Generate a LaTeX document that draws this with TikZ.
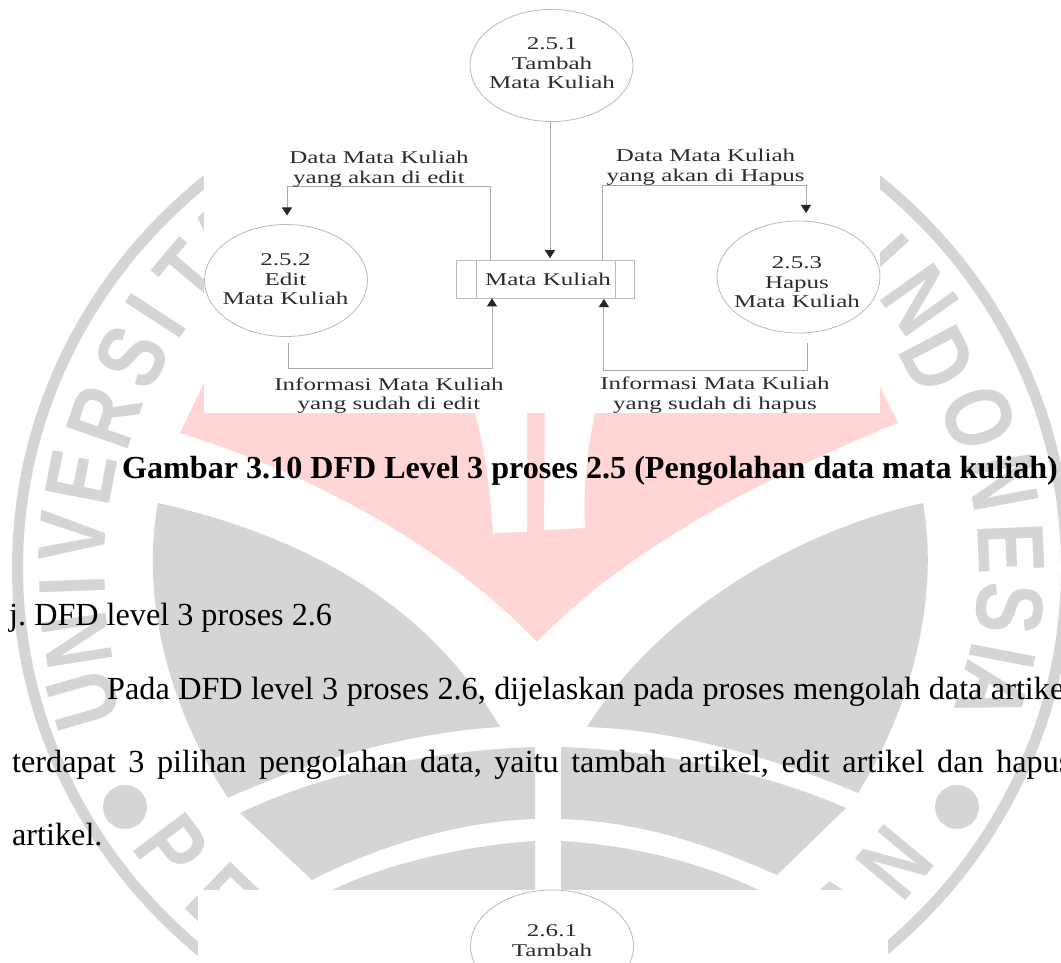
\documentclass[tikz,border=0pt]{standalone}
\usepackage{fontspec}
\usetikzlibrary{shapes.geometric,arrows.meta}
\setmainfont{Liberation Serif}
\newfontfamily\dgmfont[FakeStretch=1.39]{Liberation Serif}
\newfontfamily\wmfont[FakeStretch=0.8]{Liberation Sans}
\definecolor{wmgray}{HTML}{D5D5D5}
\definecolor{wmpink}{HTML}{FFD5D5}
\definecolor{dgmline}{HTML}{A8A8A8}
\definecolor{dgmtext}{HTML}{2C2C2C}
\tikzset{
  wmletter/.style={inner sep=0pt,outer sep=0pt,text=wmgray,font=\wmfont\bfseries\fontsize{95}{95}\selectfont},
  proc/.style={draw=dgmline!80,line width=0.8pt,ellipse,inner sep=0pt,outer sep=0pt,minimum width=163pt,minimum height=112pt},
  storebox/.style={draw=dgmline!80,line width=0.8pt,rectangle,inner sep=0pt,outer sep=0pt,minimum width=178pt,minimum height=37.6pt,
     text=dgmtext,font=\dgmfont\fontsize{18}{19.5}\selectfont},
  flow/.style={draw=dgmline,line width=0.9pt,-{Triangle[length=8pt,width=10pt,color=black!85]}},
  lbl/.style={inner sep=0pt,align=center,text=dgmtext,font=\dgmfont\fontsize{18}{19.5}\selectfont},
  body/.style={inner sep=0pt,anchor=base west,font=\fontsize{32.2}{38}\selectfont},
  capt/.style={inner sep=0pt,anchor=base west,font=\bfseries\fontsize{32.1}{38}\selectfont}
}
\frenchspacing
\begin{document}
\begin{tikzpicture}[x=1pt,y=-1pt]
\clip (0,0) rectangle (1061,963);
\fill[white] (0,0) rectangle (1061,963);
% watermark
\fill[wmpink] (180,433) .. controls (300,470) and (440,540) .. (537,642)
   .. controls (630,545) and (770,475) .. (898,423) -- (880,387) -- (860,340) -- (220,340) -- (204,383) -- cycle;
\fill[white] (475,413) .. controls (485,450) and (490,490) .. (493,533) -- (527,532) -- (527,413) -- cycle;
\fill[white] (545,413) -- (544,530) -- (585,528) .. controls (583,490) and (587,450) .. (595,413) -- cycle;
\fill[wmgray,even odd rule] (542,568) ellipse [x radius=530pt,y radius=510pt] (542,568) ellipse [x radius=519pt,y radius=499pt];
\fill[wmgray] (158,503) .. controls (300,535) and (425,600) .. (500,727)
   .. controls (400,733) and (300,765) .. (228,798)
   .. controls (170,710) and (140,600) .. (158,503) -- cycle;
\fill[wmgray] (923,503) .. controls (800,530) and (660,610) .. (587,727)
   .. controls (680,730) and (780,760) .. (858,793)
   .. controls (910,710) and (940,600) .. (923,503) -- cycle;
\fill[wmgray] (240,813) .. controls (330,770) and (440,750) .. (535,747) -- (535,819)
   .. controls (450,822) and (370,850) .. (312,880) -- cycle;
\fill[wmgray] (846,808) .. controls (760,770) and (650,750) .. (561,747) -- (561,819)
   .. controls (650,822) and (720,850) .. (777,875) -- cycle;
\fill[wmgray] (332,890) .. controls (390,862) and (470,845) .. (535,841) -- (535,890) -- cycle;
\fill[wmgray] (759,890) .. controls (700,862) and (630,845) .. (561,841) -- (561,890) -- cycle;
\fill[wmgray] (125,807) circle [radius=22pt];
\fill[wmgray] (957,807) circle [radius=22pt];
\node[wmletter,rotate=106] (wU) at (84,700) {U};
\node[wmletter,rotate=98.8] (wN) at (77,640) {N};
\node[wmletter,rotate=92] (wI) at (72,586) {I};
\node[wmletter,rotate=86] (wV) at (73,537) {V};
\node[wmletter,rotate=79] (wE) at (81,477) {E};
\node[wmletter,rotate=71] (wR) at (105,417) {R};
\node[wmletter,rotate=63] (wS) at (132,357) {S};
\node[wmletter,rotate=57] (wIb) at (156,316) {I};
\node[wmletter,rotate=50] (wT) at (190,275) {T};
\node[wmletter,rotate=42.5] (wA) at (225,238) {A};
\node[wmletter,rotate=-47.7] (xI) at (882,259) {I};
\node[wmletter,rotate=-54.7] (xN) at (920,300) {N};
\node[wmletter,rotate=-62.3] (xD) at (938,360) {D};
\node[wmletter,rotate=-71.1] (xO) at (979,418) {O};
\node[wmletter,rotate=-79.4] (xNb) at (1003,482) {N};
\node[wmletter,rotate=-87.6] (xE) at (1011,548) {E};
\node[wmletter,rotate=-95] (xS) at (1010,609) {S};
\node[wmletter,rotate=-100.8] (xIb) at (1003,656) {I};
\node[wmletter,rotate=-105.5] (xA) at (993,693) {A};
\node[wmletter,rotate=-53] (yP) at (172,848) {P};
\node[wmletter,rotate=-44] (yE) at (222,900) {E};
\node[wmletter,rotate=40] (yA) at (847,911) {A};
\node[wmletter,rotate=50.2] (yN) at (895,862) {N};
% white panels of the pasted figures
\fill[white] (204,0) rectangle (880,413);
\fill[white] (198,890) rectangle (888,963);
% diagram
\node[proc] (e1) at (551.5,65.5) {};
\node[proc] (e2) at (286,280.5) {};
\node[proc] (e3) at (798.5,277) {};
\node[lbl] (e1t) at (552,63.3) {2.5.1\\Tambah\\Mata Kuliah};
\node[lbl] (e2t) at (285.5,279.3) {2.5.2\\Edit\\Mata Kuliah};
\node[lbl] (e3t) at (797,282.6) {2.5.3\\Hapus\\Mata Kuliah};
\node[storebox] (st) at (545.5,279.5) {\hspace{5pt}Mata Kuliah};
\draw[draw=dgmline!80,line width=0.8pt] ([xshift=20pt]st.north west) -- ([xshift=20pt]st.south west);
\draw[draw=dgmline!80,line width=0.8pt] ([xshift=-19pt]st.north east) -- ([xshift=-19pt]st.south east);
\draw[flow] ([xshift=-1.5pt]e1.south) -- ([xshift=4.5pt,yshift=2.5pt]st.north);
\draw[flow] ([xshift=33.5pt]st.north west) -- ++(0,-74) -| ([xshift=1pt,yshift=9pt]e2.north);
\draw[flow] ([xshift=-32.5pt]st.north east) -- ++(0,-75) -| ([xshift=7.5pt,yshift=8pt]e3.north);
\draw[flow] ([xshift=2.7pt,yshift=-6pt]e2.south) -- ++(0,26) -| ([xshift=35.5pt]st.south west);
\draw[flow] ([xshift=8.5pt,yshift=-10pt]e3.south) -- ++(0,27) -| ([xshift=-30.6pt,yshift=-0.7pt]st.south east);
\node[lbl] (l1) at (379,169) {Data Mata Kuliah\\yang akan di edit};
\node[lbl] (l2) at (705.6,167) {Data Mata Kuliah\\yang akan di Hapus};
\node[lbl] (l3) at (389,395.6) {Informasi Mata Kuliah\\yang sudah di edit};
\node[lbl] (l4) at (715,395) {Informasi Mata Kuliah\\yang sudah di hapus};
\node[proc] (e4) at (552,946) {};
\node[lbl] (e4t) at (552,940.6) {2.6.1\\Tambah};
% page text
\node[capt] (cap) at (122,478) {Gambar 3.10 DFD Level 3 proses 2.5 (Pengolahan data mata kuliah)};
\node[body] (hd) at (9,625) {j. DFD level 3 proses 2.6};
\node[body] (p1) at (107,699) {\makebox[966pt][s]{Pada DFD level 3 proses 2.6, dijelaskan pada proses mengolah data artikel}};
\node[body] (p2) at (12,772) {\makebox[1059pt][s]{terdapat 3 pilihan pengolahan data, yaitu tambah artikel, edit artikel dan hapus}};
\node[body] (p3) at (12,845) {artikel.};
\end{tikzpicture}
\end{document}
